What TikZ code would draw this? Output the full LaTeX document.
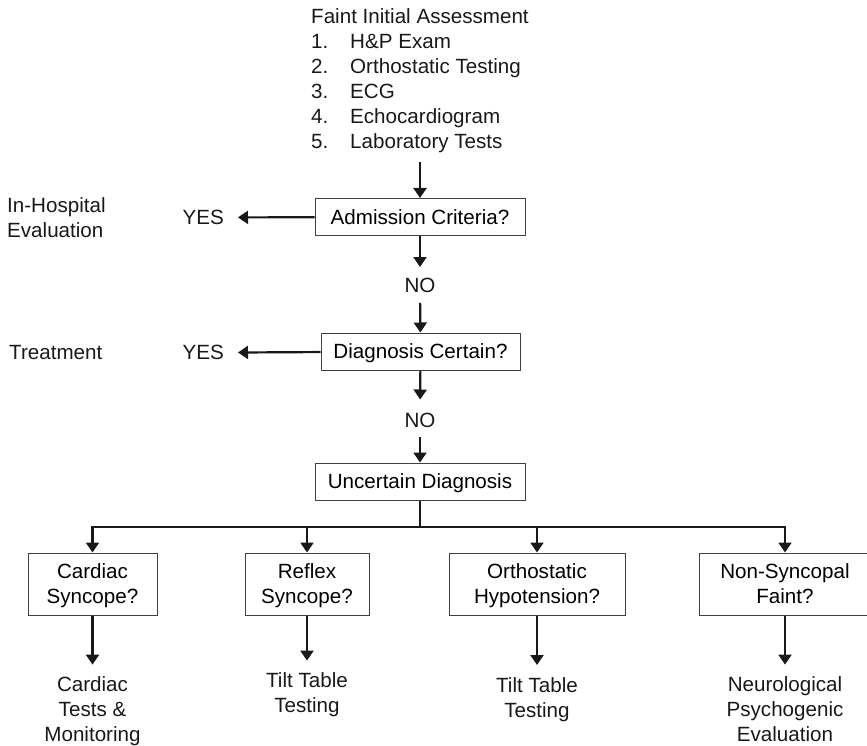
\documentclass[tikz,border=0pt]{standalone}
\usepackage{fontspec}
\setmainfont{Liberation Sans}
\usetikzlibrary{arrows.meta}

\tikzset{
  arr/.style={line width=2.2pt,draw=black!90,-{Triangle[length=10pt,width=13pt]}},
  tolabel/.style={arr,shorten >=11pt},
  fromlabel/.style={arr,shorten <=10pt},
  box/.style={draw=black!75,line width=1pt,inner sep=0pt,minimum height=37pt,
    text depth=0pt,align=center},
  twobox/.style={box,minimum height=62pt},
  lbl/.style={inner sep=0pt,text=black!90},
}

\begin{document}
\begin{tikzpicture}[x=1pt,y=-1pt,font=\fontsize{20.6}{25}\selectfont]
  \useasboundingbox (0,0) rectangle (867,746);

  \node[lbl,anchor=base west] (head) at (311,24) {Faint Initial Assessment};
  \foreach[evaluate={24+25*\i} as \y] \i/\t in {1/H\&P Exam,2/Orthostatic Testing,
      3/ECG,4/Echocardiogram,5/Laboratory Tests} {
    \node[lbl,anchor=base west] (num\i) at (311,\y) {\i.};
    \node[lbl,anchor=base west] (item\i) at (350,\y) {\t};
  }
  \coordinate (start) at (420,162);

  \node[box,minimum width=210pt] (admit) at (420,217) {Admission Criteria?};
  \node[lbl,anchor=east] (yes1) at (224,217.5) {YES};
  \node[lbl,anchor=north west,align=left] (hosp) at (7,197.6) {In-Hospital\\Evaluation};
  \node[lbl] (no1) at (420,285.5) {NO};

  \node[box,minimum width=199pt] (diag) at (420.5,351.5) {Diagnosis Certain?};
  \node[lbl,anchor=east] (yes2) at (224,352.7) {YES};
  \node[lbl,anchor=west] (treat) at (9,353) {Treatment};
  \node[lbl] (no2) at (420,420) {NO};

  \node[box,minimum width=210pt] (unc) at (420,481.5) {Uncertain Diagnosis};
  \coordinate (split) at (420,527);

  \node[twobox,minimum width=129pt] (card) at (92.5,584) {Cardiac\\Syncope?};
  \node[twobox,minimum width=124pt] (refl) at (307,584) {Reflex\\Syncope?};
  \node[twobox,minimum width=176pt] (orth) at (537,584) {Orthostatic\\Hypotension?};
  \node[twobox,minimum width=172pt] (non) at (785,584) {Non-Syncopal\\Faint?};

  \node[lbl,anchor=north,align=center] (cardres) at (92.5,676.6) {Cardiac\\Tests \&\\Monitoring};
  \node[lbl,anchor=north,align=center] (reflres) at (307,672.6) {Tilt Table\\Testing};
  \node[lbl,anchor=north,align=center] (orthres) at (537,677) {Tilt Table\\Testing};
  \node[lbl,anchor=north,align=center] (nonres) at (785,676.6) {Neurological\\Psychogenic\\Evaluation};

  \draw[arr] (start) -- (admit);
  \draw[arr,shorten >=14pt] (admit) -- (yes1);
  \draw[tolabel] (admit) -- (no1);
  \draw[fromlabel] (no1) -- (diag);
  \draw[arr,shorten >=14pt] (diag) -- (yes2);
  \draw[tolabel,shorten >=13pt] (diag) -- (no2);
  \draw[fromlabel] (no2) -- (unc);

  \draw[line width=2.2pt,draw=black!90] (unc) -- (split);
  \draw[line width=2.2pt,draw=black!90,line cap=rect] (card.north |- split) -- (non.north |- split);
  \foreach \b in {card,refl,orth,non} {
    \draw[arr] (\b.north |- split) -- (\b);
    \draw[tolabel,shorten >=12pt] (\b) -- (\b res);
  }
\end{tikzpicture}
\end{document}
